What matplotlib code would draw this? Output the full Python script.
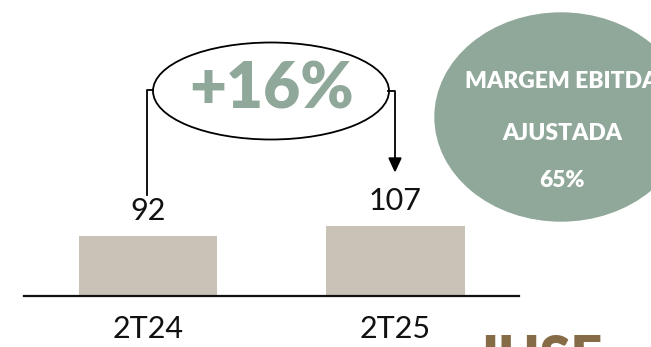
import matplotlib.pyplot as plt
from matplotlib.patches import Ellipse

# EBITDA ajustado por trimestre
quarters = ["2T24", "2T25"]
ebitda = [92, 107]
growth_label = "+16%"
margin_lines = ["MARGEM EBITDA", "AJUSTADA", "65%"]

bar_color = "#c9c2b6"
green = "#90a89a"
brown = "#866b47"

plt.rcParams['font.family'] = ['Lato', 'DejaVu Sans']

W, H = 651, 347
fig = plt.figure(figsize=(W / 100, H / 100), dpi=100)

# bar axes: baseline at y=296 px, spans x=24..519 px, ~0.652 px per unit
ax = fig.add_axes([24 / W, (H - 296) / H, (519 - 24) / W, (296 - 8) / H])
x = range(len(quarters))
ax.bar(x, ebitda, width=0.558, color=bar_color)
ax.set_xlim(-0.501, 1.499)
ax.set_ylim(0, 288 / 0.652)
for xi, v in zip(x, ebitda):
    ax.annotate(str(v), (xi, v), xytext=(0, 8), textcoords="offset points",
                ha="center", va="bottom", fontsize=22, color="#111111")
ax.set_xticks(list(x))
ax.set_xticklabels(quarters, fontsize=22, color="#111111")
ax.tick_params(axis="x", length=0, pad=14)
ax.set_yticks([])
for s in ["top", "left", "right"]:
    ax.spines[s].set_visible(False)
ax.spines["bottom"].set_linewidth(1.6)
ax.spines["bottom"].set_color("#111111")
ax.patch.set_alpha(0)

# overlay in pixel units for the growth bracket and the margin badge
ov = fig.add_axes([0, 0, 1, 1], zorder=3)
ov.set_xlim(0, W)
ov.set_ylim(H, 0)
ov.axis("off")

ov.plot([147, 147, 153], [195, 90, 90], color="black", lw=1.3)
ov.plot([388, 395, 395], [91, 91, 160], color="black", lw=1.3)
ov.fill([389, 401, 395], [158, 158, 171], color="black")
ov.add_patch(Ellipse((271, 91), 236, 97, fill=False, ec="black", lw=1.3))
ov.text(272, 90, growth_label, ha="center", va="center", fontsize=46,
        fontweight="heavy", color=green)

ov.add_patch(Ellipse((561, 117), 252, 208, color=green, clip_on=False))
for yy, t in zip([81, 133, 180], margin_lines):
    ov.text(562, yy, t, ha="center", va="center", fontsize=16.5,
            fontweight="heavy", color="white")

ov.text(481, 334, "IUSE", ha="left", va="top", fontsize=40,
        fontweight="heavy", color=brown)

fig.savefig("out.png", dpi=100)
